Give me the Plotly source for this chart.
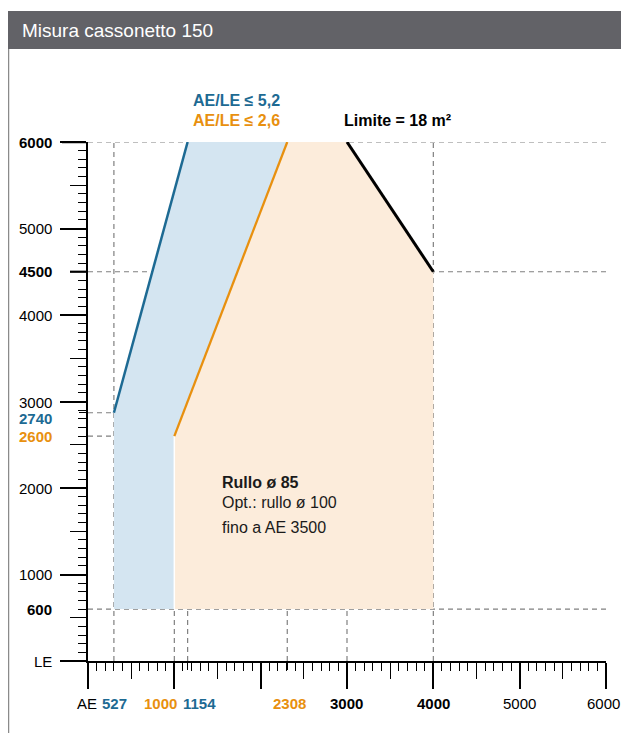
import plotly.graph_objects as go

# ---------------- data (values as drawn in the reference, schematic) ----------------
title_text = "Misura cassonetto 150"

# boundary lines (AE, LE)
blue_line_x = [300, 1154]      # AE/LE <= 5,2  (start labelled 527 / 2740)
blue_line_y = [2870, 6000]
orange_line_x = [1000, 2308]   # AE/LE <= 2,6
orange_line_y = [2600, 6000]
limit_line_x = [3000, 4000]    # Limite = 18 m2
limit_line_y = [6000, 4500]
le_min = 600
le_max = 6000

# tick labels
x_label_vals = [0, 300, 1000, 1154, 2308, 3000, 4000, 5000, 6000]
x_label_text = ["AE", "527", "1000", "1154", "2308", "3000", "4000", "5000", "6000"]
y_label_vals = [6000, 5000, 4500, 4000, 3000, 2870, 2600, 2000, 1000, 600, 0]
y_label_text = ["6000", "5000", "4500", "4000", "3000", "2740", "2600", "2000", "1000", "600", "LE"]

# guide lines: (value, from, to)
h_guides = [(6000, 0, 6000), (4500, 0, 6000), (2870, 0, 300), (2600, 0, 300), (600, 0, 6000)]
v_guides = [(300, 0, 6000), (1000, 0, 600), (1154, 0, 600), (2308, 0, 600), (3000, 0, 600), (4000, 0, 6000)]

# ---------------- styles ----------------
BLUE = "#1d6a93"
ORANGE = "#e8900f"
BLUE_FILL = "#d4e5f1"
ORANGE_FILL = "#fcecdb"
GUIDE = "#808080"
HEADER = "#626267"
FONT = "Liberation Sans, Arial, Helvetica, sans-serif"

OFF = 8  # page body margin
W, H = 621, 725
L, R, T, B = 88 - OFF, 23, 142 - OFF, 72


def fx(px):
    return (px - OFF - L) / (W - L - R)


def fy(py):
    return 1 - (py - OFF - T) / (H - T - B)


fig = go.Figure()

# guides (below the fills)
for val, a, b in h_guides:
    fig.add_trace(go.Scatter(x=[a, b], y=[val, val], mode="lines",
                             line=dict(color=GUIDE, width=1.2, dash="5px,4px"),
                             hoverinfo="skip", showlegend=False))
for val, a, b in v_guides:
    fig.add_trace(go.Scatter(x=[val, val], y=[a, b], mode="lines",
                             line=dict(color=GUIDE, width=1.2, dash="5px,4px"),
                             hoverinfo="skip", showlegend=False))

# blue area
blue_x = [blue_line_x[0], blue_line_x[0], blue_line_x[1], orange_line_x[1], orange_line_x[0], orange_line_x[0], blue_line_x[0]]
blue_y = [le_min, blue_line_y[0], blue_line_y[1], orange_line_y[1], orange_line_y[0], le_min, le_min]
fig.add_trace(go.Scatter(x=blue_x, y=blue_y, fill="toself", fillcolor=BLUE_FILL, mode="none",
                         hoverinfo="skip", showlegend=False))
# orange area
orange_x = [orange_line_x[0], orange_line_x[0], orange_line_x[1], limit_line_x[0], limit_line_x[1], limit_line_x[1], orange_line_x[0]]
orange_y = [le_min, orange_line_y[0], orange_line_y[1], limit_line_y[0], limit_line_y[1], le_min, le_min]
fig.add_trace(go.Scatter(x=orange_x, y=orange_y, fill="toself", fillcolor=ORANGE_FILL, mode="none",
                         hoverinfo="skip", showlegend=False))
# thin white separation
fig.add_trace(go.Scatter(x=[orange_line_x[0], orange_line_x[0]], y=[le_min, orange_line_y[0]], mode="lines",
                         line=dict(color="white", width=1.5), hoverinfo="skip", showlegend=False))

# boundary lines
fig.add_trace(go.Scatter(x=blue_line_x, y=blue_line_y, mode="lines", line=dict(color=BLUE, width=2.5),
                         hoverinfo="skip", showlegend=False))
fig.add_trace(go.Scatter(x=orange_line_x, y=orange_line_y, mode="lines", line=dict(color=ORANGE, width=2.3),
                         hoverinfo="skip", showlegend=False))
fig.add_trace(go.Scatter(x=limit_line_x, y=limit_line_y, mode="lines", line=dict(color="black", width=3),
                         hoverinfo="skip", showlegend=False))

# dummy traces so the overlay axes exist
fig.add_trace(go.Scatter(x=[], y=[], xaxis="x2", yaxis="y", showlegend=False))
fig.add_trace(go.Scatter(x=[], y=[], xaxis="x", yaxis="y2", showlegend=False))

annotations = []

# x labels
x_colors = ["black", BLUE, ORANGE, BLUE, ORANGE, "black", "black", "black", "black"]
x_bold = [False, True, True, True, True, True, True, False, False]
x_shift = [-1, 1, -14, 12, 2, -1, 0, 0, -3]
for v, t, c, bd, s in zip(x_label_vals, x_label_text, x_colors, x_bold, x_shift):
    annotations.append(dict(x=v, y=0, xref="x", yref="y", text=f"<b>{t}</b>" if bd else t,
                            showarrow=False, xanchor="center", yanchor="middle", xshift=s, yshift=-42,
                            font=dict(family=FONT, size=15, color=c)))

# y labels
y_colors = ["black", "black", "black", "black", "black", BLUE, ORANGE, "black", "black", "black", "black"]
y_bold = [True, False, True, False, False, True, True, False, False, True, False]
y_shift = [0, 0, 0, 0, -1, -6, 0, 0, 0, 0, 0]
for v, t, c, bd, s in zip(y_label_vals, y_label_text, y_colors, y_bold, y_shift):
    annotations.append(dict(x=0, y=v, xref="x", yref="y", text=f"<b>{t}</b>" if bd else t,
                            showarrow=False, xanchor="right", yanchor="middle", xshift=-34, yshift=s,
                            font=dict(family=FONT, size=15, color=c)))

# chart texts
annotations += [
    dict(x=1190, y=6000, xref="x", yref="y", text="<b>AE/LE ≤ 5,2</b>", showarrow=False,
         xanchor="left", yanchor="middle", yshift=42, font=dict(family=FONT, size=16, color=BLUE)),
    dict(x=1190, y=6000, xref="x", yref="y", text="<b>AE/LE ≤ 2,6</b>", showarrow=False,
         xanchor="left", yanchor="middle", yshift=22, font=dict(family=FONT, size=16, color=ORANGE)),
    dict(x=2940, y=6000, xref="x", yref="y", text="<b>Limite = 18 m²</b>", showarrow=False,
         xanchor="left", yanchor="middle", yshift=22, font=dict(family=FONT, size=16, color="black")),
    dict(x=1525, y=2069, xref="x", yref="y", text="<b>Rullo ø 85</b>", showarrow=False,
         xanchor="left", yanchor="middle", font=dict(family=FONT, size=16, color="#1a1a1a")),
    dict(x=1525, y=1827, xref="x", yref="y", text="Opt.: rullo ø 100", showarrow=False,
         xanchor="left", yanchor="middle", font=dict(family=FONT, size=16, color="#1a1a1a")),
    dict(x=1525, y=1549, xref="x", yref="y", text="fino a AE 3500", showarrow=False,
         xanchor="left", yanchor="middle", font=dict(family=FONT, size=16, color="#1a1a1a")),
    dict(x=fx(20), y=fy(30), xref="paper", yref="paper", text=title_text, showarrow=False,
         xanchor="left", yanchor="middle", font=dict(family=FONT, size=19, color="white")),
]

shapes = [
    dict(type="rect", xref="paper", yref="paper", x0=fx(8), x1=fx(640), y0=fy(49), y1=fy(11),
         fillcolor=HEADER, line=dict(width=0), layer="above"),
    dict(type="line", xref="paper", yref="paper", x0=fx(8.5), x1=fx(8.5), y0=fy(49), y1=fy(740),
         line=dict(color="#8a8a8a", width=1.5)),
    # emphasised ticks at 6000 and 4500
    dict(type="line", xref="paper", yref="y", x0=fx(62), x1=0, y0=6000, y1=6000,
         line=dict(color="black", width=2.5)),
    dict(type="line", xref="paper", yref="y", x0=fx(70), x1=0, y0=4500, y1=4500,
         line=dict(color="black", width=2.2)),
]

fig.update_layout(
    width=W, height=H, autosize=False,
    margin=dict(l=L, r=R, t=T, b=B, pad=0),
    plot_bgcolor="white", paper_bgcolor="white",
    showlegend=False,
    annotations=annotations,
    shapes=shapes,
    xaxis=dict(range=[0, 6000], showgrid=False, zeroline=False, showline=True, linecolor="black",
               linewidth=1.5, ticks="outside", tickmode="array", tickvals=list(range(0, 6001, 1000)),
               ticklen=26, tickwidth=1.5, tickcolor="black", showticklabels=False, fixedrange=True,
               minor=dict(tickmode="linear", tick0=0, dtick=100, ticklen=8, tickwidth=1.2,
                          tickcolor="black", ticks="outside", showgrid=False)),
    xaxis2=dict(range=[0, 6000], overlaying="x", anchor="y", side="bottom", showgrid=False,
                zeroline=False, showline=False, ticks="outside", tickmode="array",
                tickvals=list(range(500, 6000, 1000)), ticklen=17, tickwidth=1.3, tickcolor="black",
                showticklabels=False,
                minor=dict(tickmode="array", tickvals=[1154, 2308], ticklen=8, tickwidth=1.2,
                           tickcolor="black", ticks="outside", showgrid=False)),
    yaxis=dict(range=[0, 6000], showgrid=False, zeroline=False, showline=True, linecolor="black",
               linewidth=1.5, ticks="outside", tickmode="array", tickvals=list(range(0, 6001, 1000)),
               ticklen=26, tickwidth=1.5, tickcolor="black", showticklabels=False, fixedrange=True,
               minor=dict(tickmode="linear", tick0=0, dtick=100, ticklen=8, tickwidth=1.2,
                          tickcolor="black", ticks="outside", showgrid=False)),
    yaxis2=dict(range=[0, 6000], overlaying="y", anchor="x", side="left", showgrid=False,
                zeroline=False, showline=False, ticks="outside", tickmode="array",
                tickvals=list(range(500, 6000, 1000)), ticklen=17, tickwidth=1.3, tickcolor="black",
                showticklabels=False,
                minor=dict(tickmode="array", tickvals=[2870], ticklen=8, tickwidth=1.2,
                           tickcolor="black", ticks="outside", showgrid=False)),
)

fig.write_html("out.html")
